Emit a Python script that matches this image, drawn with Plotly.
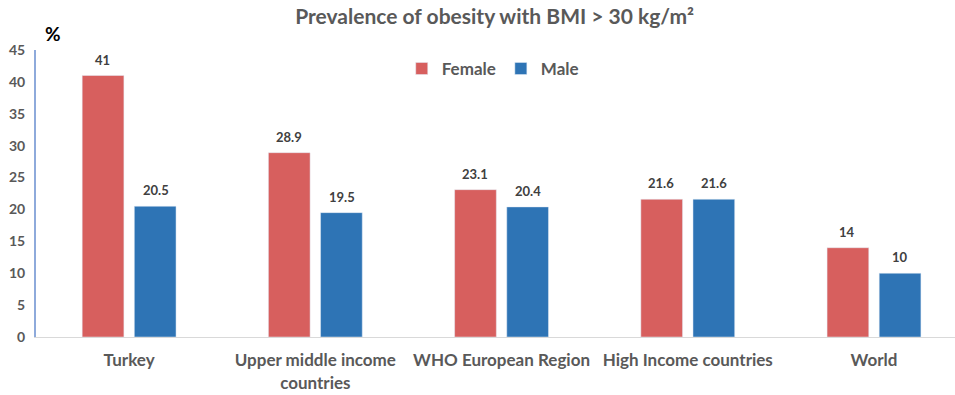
import plotly.graph_objects as go

categories = ["Turkey", "Upper middle income<br>countries", "WHO European Region",
              "High Income countries", "World"]
female = [41, 28.9, 23.1, 21.6, 14]
male = [20.5, 19.5, 20.4, 21.6, 10]
y_ticks = [0, 5, 10, 15, 20, 25, 30, 35, 40, 45]

FONT = "Lato, Open Sans, sans-serif"
RED = "#D75F5E"
BLUE = "#2E74B5"
LABEL_FONT = dict(family=FONT, size=13, color="#404040", weight="bold")

fig = go.Figure()
fig.add_trace(go.Bar(name="Female", x=categories, y=female, marker_color=RED))
fig.add_trace(go.Bar(name="Male", x=categories, y=male, marker_color=BLUE))

# value labels above each bar, offset to the bar centre within its group
annotations = []
for series, shift in ((female, -26.5), (male, 26.5)):
    for cat, v in zip(categories, series):
        annotations.append(dict(x=cat, y=v, xref="x", yref="y", text=f"{v:g}",
                                showarrow=False, xanchor="center", yanchor="bottom",
                                xshift=shift, yshift=6, font=LABEL_FONT))

annotations.append(dict(text="%", xref="paper", yref="paper", x=0.0, y=1.0,
                        xanchor="left", yanchor="bottom", xshift=7, yshift=3,
                        showarrow=False,
                        font=dict(family=FONT, size=19, color="#000000", weight="bold")))

fig.update_layout(
    width=955, height=395,
    margin=dict(l=36, r=0, t=50, b=58),
    plot_bgcolor="white", paper_bgcolor="white",
    barmode="group", bargap=0.44, bargroupgap=0.2,
    font=dict(family=FONT, color="#595959"),
    title=dict(text="Prevalence of obesity with BMI > 30 kg/m²",
               x=0.518, xanchor="center", y=0.957, yanchor="middle",
               font=dict(family=FONT, size=21, color="#595959", weight="bold")),
    legend=dict(orientation="h", x=0.497, xanchor="center", y=0.934, yanchor="middle",
                font=dict(family=FONT, size=17, color="#595959", weight="bold"),
                itemwidth=30, traceorder="normal"),
    xaxis=dict(range=[-0.5, 4.435], showline=True, linecolor="#D9D9D9", linewidth=1,
               ticks="", ticklabelstandoff=8,
               tickfont=dict(family=FONT, size=17, color="#595959", weight="bold"),
               showgrid=False),
    yaxis=dict(range=[0, 45], tickvals=y_ticks, showgrid=False, zeroline=False,
               showline=True, linecolor="#8EAADB", linewidth=2, ticks="",
               ticklabelstandoff=6,
               tickfont=dict(family=FONT, size=14, color="#595959", weight="bold")),
    annotations=annotations,
)

fig.write_html("out.html")
